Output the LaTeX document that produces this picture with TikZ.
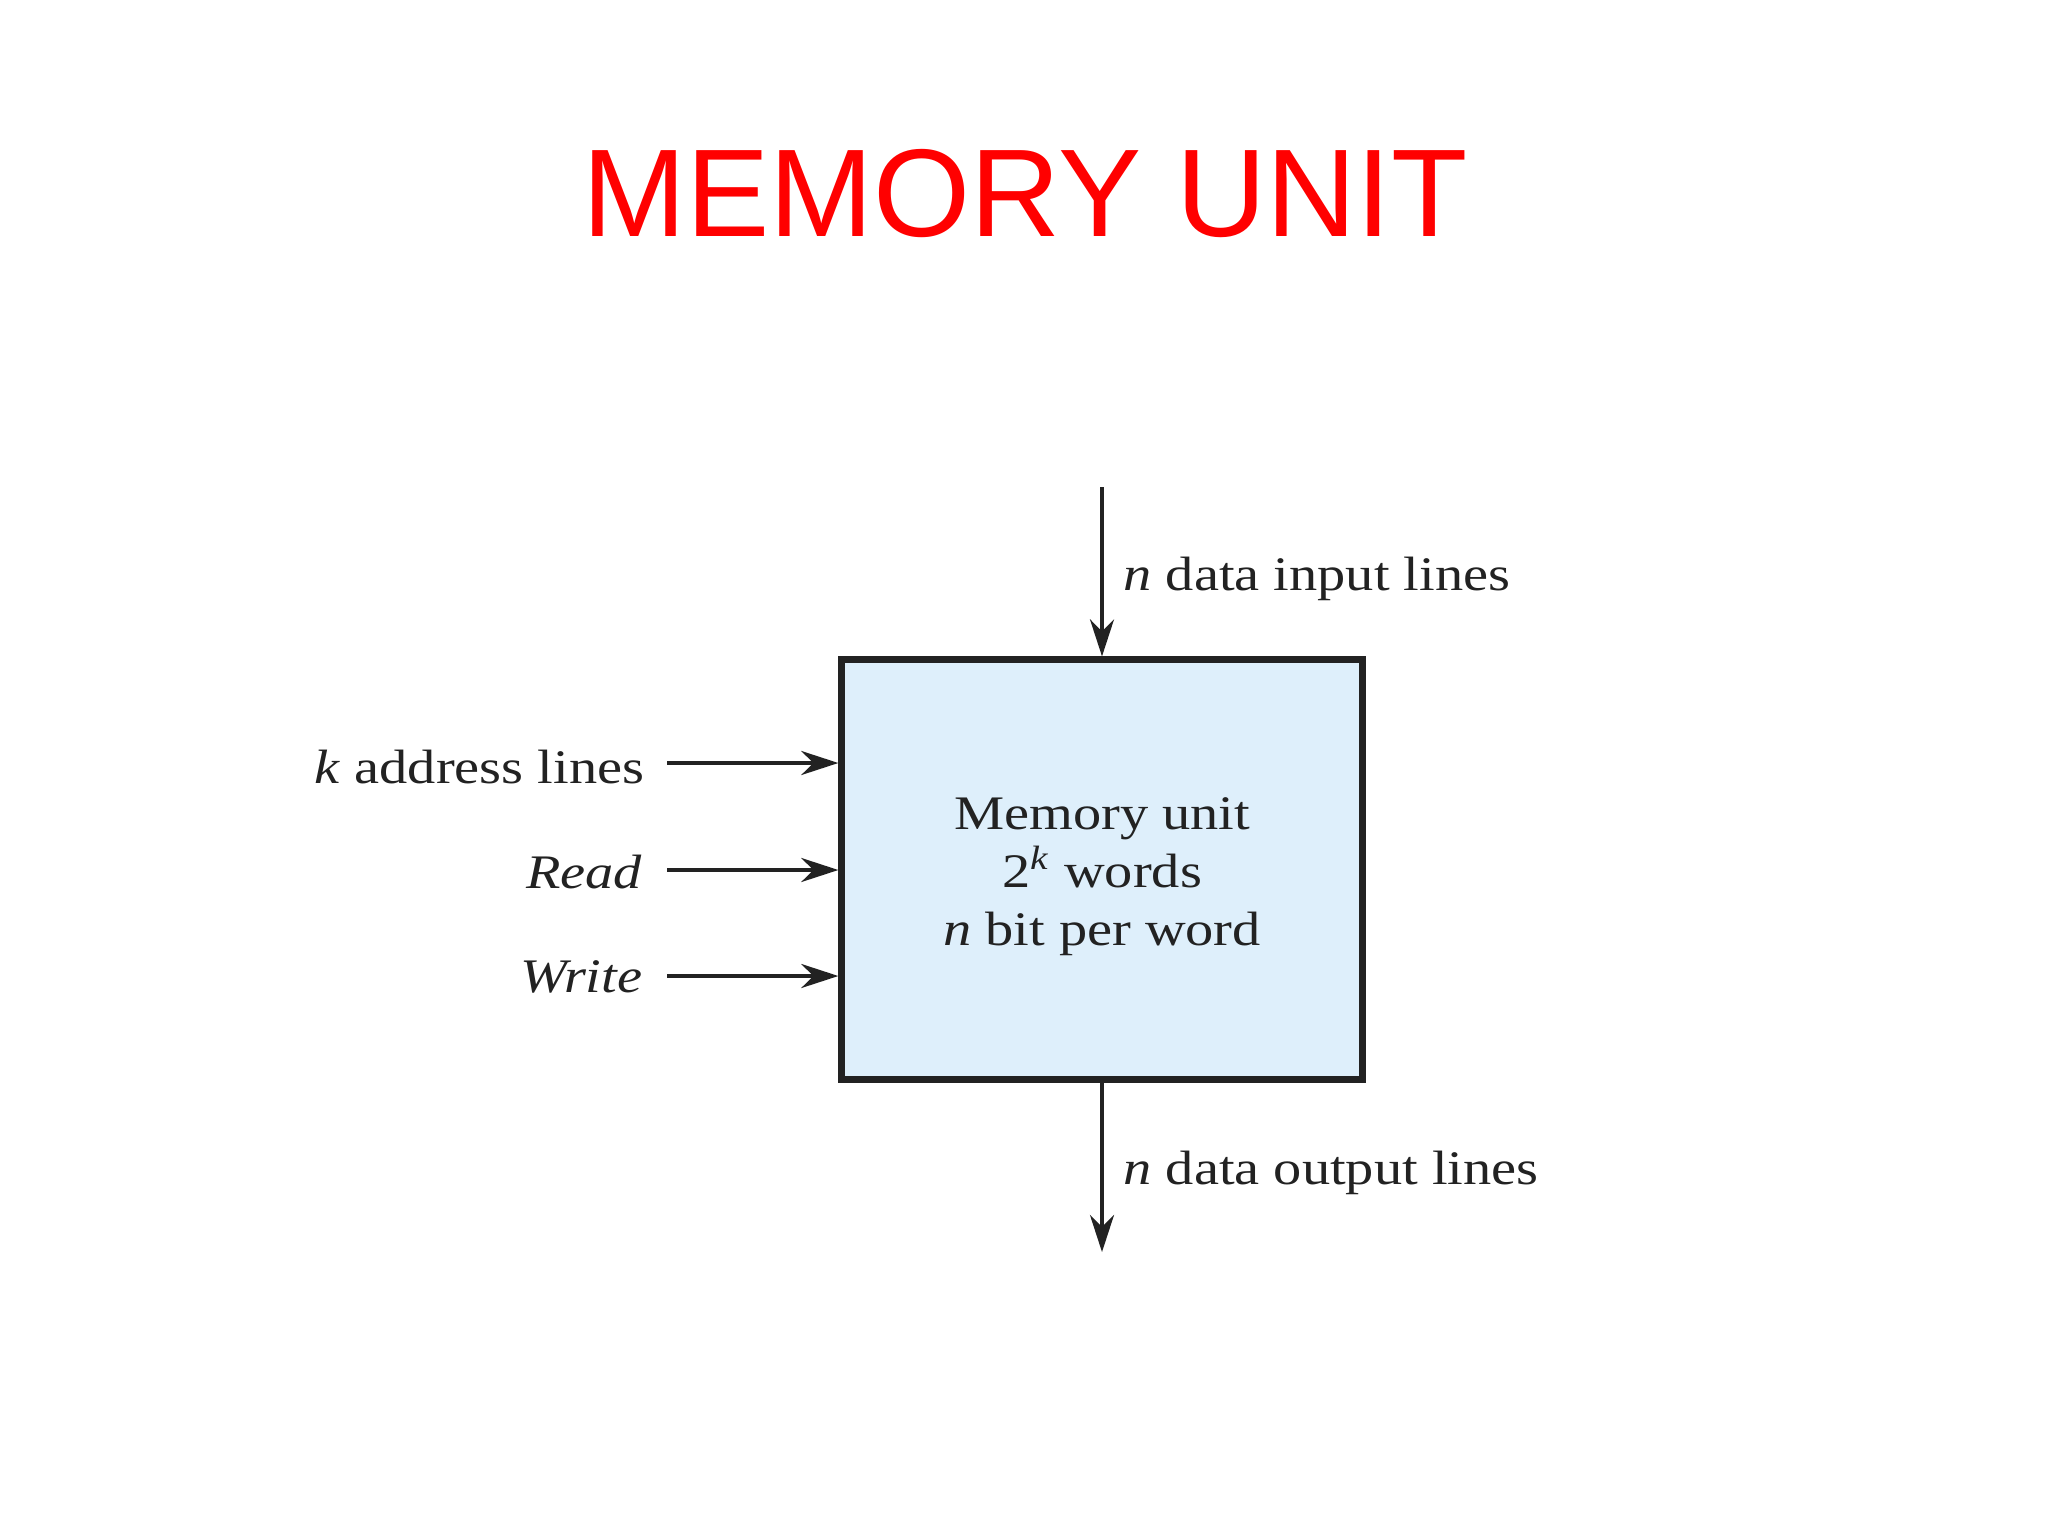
\documentclass[tikz,border=0pt]{standalone}
\usepackage{fontspec}
\setmainfont{Liberation Serif}[FakeStretch=1.17]
\newfontfamily\titlefont{Liberation Sans}
\usetikzlibrary{arrows.meta}
\definecolor{ink}{HTML}{222222}
\definecolor{boxfill}{HTML}{DEEFFB}
\definecolor{titlered}{HTML}{FF0000}
\tikzset{
  lbl/.style={inner sep=0pt, text=ink, font=\fontsize{13.7}{16.5}\selectfont},
  arr/.style={draw=ink, line width=1pt, -{Stealth[length=0.37cm, width=0.24cm, inset=0.12cm]}},
  membox/.style={draw=ink, line width=2pt, fill=boxfill, minimum width=5.2cm, minimum height=4.19cm, inner sep=0pt}
}
\begin{document}
\begin{tikzpicture}[x=0.01cm, y=-0.01cm]
\useasboundingbox[fill=white] (0,0) rectangle (2048,1536);
% title
\node[anchor=base, inner sep=0pt, text=titlered, font=\titlefont\fontsize{35.5}{40}\selectfont] (title) at (1025,236) {MEMORY UNIT};
% memory box
\node[membox] (box) at (1102,869.5) {};
\node[lbl, align=center, font=\fontsize{13.7}{16.5}\selectfont] (boxtext) at (1102,877) {Memory unit\\2\textsuperscript{\textit{k}} words\\\textit{n} bit per word};
% top input
\coordinate (tin) at (1102,487);
\draw[arr] (tin) -- (box.north);
\node[lbl, anchor=base west] (din) at (1123,590) {\textit{n} data input lines};
% bottom output
\coordinate (bout) at (1102,1252);
\draw[arr] (box.south) -- (bout);
\node[lbl, anchor=base west] (dout) at (1123,1184) {\textit{n} data output lines};
% left inputs
\coordinate (a1) at (667,763);
\coordinate (a2) at (667,870);
\coordinate (a3) at (667,976);
\draw[arr] (a1) -- (a1 -| box.west);
\draw[arr] (a2) -- (a2 -| box.west);
\draw[arr] (a3) -- (a3 -| box.west);
\node[lbl, anchor=base east] (addr) at (645,783) {\textit{k} address lines};
\node[lbl, anchor=base east] (read) at (643,888) {\textit{Read}};
\node[lbl, anchor=base east] (write) at (643,992) {\textit{Write}};
\end{tikzpicture}
\end{document}
